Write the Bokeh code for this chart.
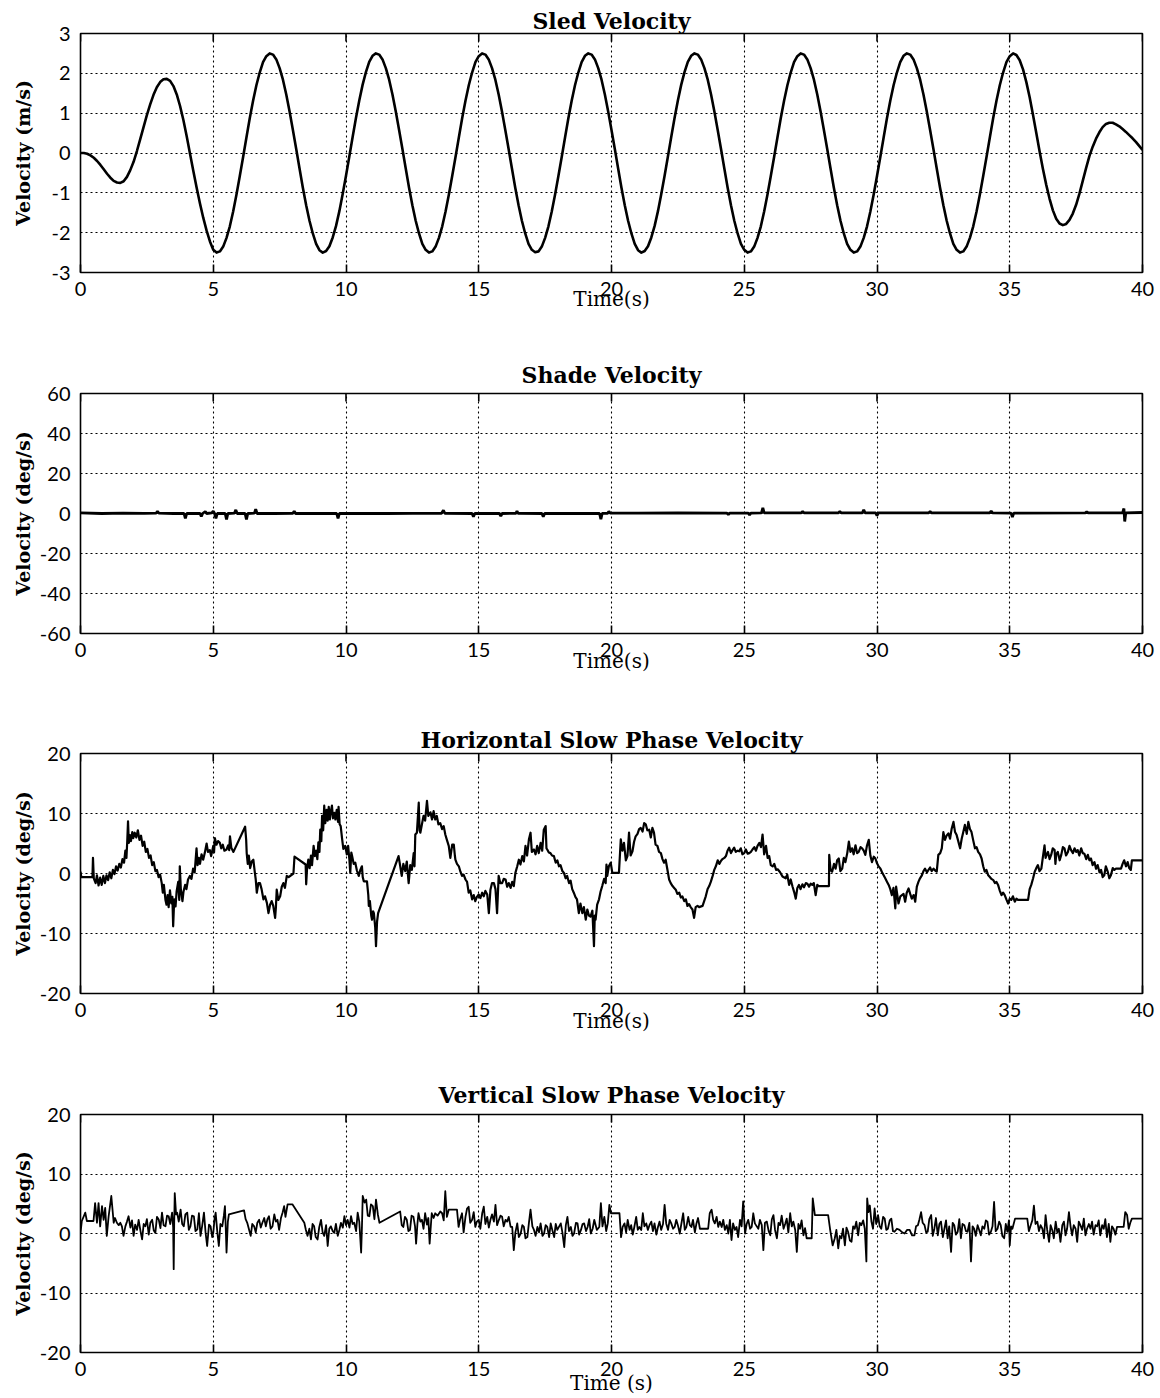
from bokeh.plotting import figure
from bokeh.layouts import column
from bokeh.models import FixedTicker, Range1d
from bokeh.embed import file_html
from bokeh.resources import INLINE

# ---------------------------------------------------------------- data
# Sled velocity (m/s), sampled every 0.125 s from 0 to 40 s
sled_step = 0.125
sled_v = [
    # 0 - 4.875 s: start-up
    0.00, 0.00, -0.02, -0.06, -0.12, -0.20, -0.30, -0.41, -0.52, -0.62,
    -0.70, -0.74, -0.75, -0.71, -0.60, -0.43, -0.22, 0.05, 0.35, 0.65,
    0.95, 1.22, 1.46, 1.65, 1.78, 1.85, 1.86, 1.81, 1.68, 1.47,
    1.18, 0.83, 0.42, -0.02, -0.45, -0.87, -1.27, -1.63, -1.95, -2.22,
    # 5 - 33 s: steady cycles, one row per 2 s
    -2.43, -2.50, -2.47, -2.35, -2.13, -1.84, -1.47, -1.04, -0.58, -0.10, 0.39, 0.87, 1.31, 1.70, 2.02, 2.28,
    2.43, 2.50, 2.47, 2.35, 2.13, 1.84, 1.47, 1.04, 0.58, 0.10, -0.39, -0.87, -1.31, -1.70, -2.02, -2.28,
    -2.44, -2.50, -2.46, -2.34, -2.12, -1.83, -1.46, -1.03, -0.57, -0.09, 0.40, 0.88, 1.32, 1.71, 2.03, 2.29,
    2.44, 2.50, 2.47, 2.35, 2.13, 1.84, 1.47, 1.04, 0.58, 0.10, -0.39, -0.87, -1.31, -1.70, -2.02, -2.28,
    -2.43, -2.50, -2.47, -2.35, -2.13, -1.84, -1.47, -1.04, -0.58, -0.10, 0.39, 0.87, 1.31, 1.70, 2.02, 2.28,
    2.43, 2.50, 2.47, 2.35, 2.13, 1.84, 1.47, 1.04, 0.58, 0.10, -0.39, -0.87, -1.31, -1.70, -2.02, -2.28,
    -2.43, -2.49, -2.47, -2.35, -2.13, -1.84, -1.47, -1.04, -0.58, -0.10, 0.39, 0.87, 1.31, 1.70, 2.02, 2.28,
    2.44, 2.50, 2.47, 2.35, 2.13, 1.84, 1.47, 1.04, 0.58, 0.10, -0.39, -0.87, -1.31, -1.70, -2.02, -2.28,
    -2.44, -2.50, -2.46, -2.34, -2.12, -1.83, -1.46, -1.03, -0.57, -0.09, 0.40, 0.88, 1.32, 1.71, 2.03, 2.29,
    2.44, 2.50, 2.47, 2.35, 2.13, 1.84, 1.47, 1.04, 0.58, 0.10, -0.39, -0.87, -1.31, -1.70, -2.02, -2.28,
    -2.43, -2.50, -2.47, -2.35, -2.13, -1.84, -1.47, -1.04, -0.58, -0.10, 0.39, 0.87, 1.31, 1.70, 2.02, 2.28,
    2.43, 2.50, 2.47, 2.35, 2.13, 1.84, 1.47, 1.04, 0.58, 0.10, -0.39, -0.87, -1.31, -1.70, -2.02, -2.28,
    -2.43, -2.50, -2.47, -2.35, -2.13, -1.84, -1.47, -1.04, -0.58, -0.10, 0.39, 0.87, 1.31, 1.70, 2.02, 2.28,
    2.44, 2.50, 2.47, 2.35, 2.13, 1.84, 1.47, 1.04, 0.58, 0.10, -0.39, -0.87, -1.31, -1.70, -2.02, -2.28,
    # 33 - 34.875 s
    -2.43, -2.50, -2.47, -2.35, -2.13, -1.84, -1.47, -1.04, -0.58, -0.10, 0.39, 0.87, 1.31, 1.70, 2.02, 2.28,
    # 35 - 40 s: run-down
    2.43, 2.50, 2.46, 2.33, 2.10, 1.78, 1.40, 0.96, 0.50, 0.04,
    -0.40, -0.80, -1.15, -1.44, -1.65, -1.77, -1.81, -1.78, -1.68, -1.52,
    -1.30, -1.02, -0.70, -0.38, -0.08, 0.16, 0.36, 0.52, 0.65, 0.73,
    0.76, 0.76, 0.72, 0.67, 0.60, 0.53, 0.45, 0.37, 0.28, 0.18, 0.08,
]
sled_t = [i * sled_step for i in range(len(sled_v))]

# Shade velocity (deg/s): (time, value)
shade = [
    (0.0, 0.3), (0.8, 0.0), (1.6, 0.2), (2.4, 0.1), (2.85, 0.2), (2.9, 1.0), (2.95, 0.2),
    (3.5, 0.0), (3.9, 0.0), (3.95, -2.5), (4.0, 0.0), (4.5, 0.1), (4.55, -1.5), (4.6, 0.0),
    (4.7, 1.0), (4.75, 0.0), (4.95, 0.3), (5.0, 1.2), (5.05, 0.0), (5.1, -2.5), (5.15, 0.0),
    (5.45, 0.0), (5.5, -3.0), (5.55, 0.0), (5.8, 0.2), (5.85, 1.8), (5.9, 0.0), (6.2, 0.0),
    (6.25, -3.0), (6.3, 0.0), (6.55, 0.2), (6.6, 2.2), (6.65, 0.0), (7.3, 0.0), (8.0, 0.1),
    (8.05, 1.2), (8.1, 0.0), (9.0, 0.0), (9.65, 0.0), (9.7, -2.5), (9.75, 0.0), (10.5, 0.1),
    (11.5, 0.0), (12.5, 0.1), (13.6, 0.1), (13.67, 1.6), (13.72, 0.1), (14.75, 0.0),
    (14.8, -1.6), (14.85, 0.0), (15.78, 0.0), (15.83, -1.3), (15.88, 0.0), (16.4, 0.1),
    (16.44, 1.2), (16.48, 0.1), (17.38, 0.0), (17.43, -1.6), (17.48, 0.0), (19.55, 0.0),
    (19.6, -2.8), (19.65, 0.1), (19.85, 0.1), (19.9, 1.0), (19.95, 0.2), (21.0, 0.2),
    (22.5, 0.3), (24.35, 0.2), (24.4, -0.6), (24.45, 0.2), (25.15, 0.2), (25.2, -0.8),
    (25.25, 0.2), (25.65, 0.3), (25.7, 2.8), (25.75, 0.3), (27.15, 0.3), (27.2, 1.0),
    (27.25, 0.3), (28.55, 0.3), (28.6, 1.0), (28.65, 0.3), (29.45, 0.3), (29.5, 1.8),
    (29.55, 0.3), (29.95, 0.3), (30.0, -1.0), (30.05, 0.3), (31.95, 0.3), (32.0, 1.0),
    (32.05, 0.3), (34.25, 0.3), (34.3, 1.2), (34.35, 0.3), (35.05, 0.2), (35.1, -1.8),
    (35.15, 0.2), (37.85, 0.3), (37.9, 0.9), (37.95, 0.3), (39.25, 0.3), (39.3, 2.5),
    (39.33, -4.0), (39.37, 0.3), (40.0, 0.5),
]

# Horizontal slow phase velocity (deg/s): (time, value)
horiz = [
    (0.0, 0.3), (0.03, -0.6), (0.45, -0.6), (0.47, 2.6), (0.5, -0.8), (0.57, -1.6), (0.62, -0.3),
    (0.68, -2.0), (0.74, -0.7), (0.8, -1.9), (0.86, -0.4), (0.92, -1.6), (0.98, -0.3),
    (1.04, -1.1), (1.1, 0.2), (1.16, -0.8), (1.22, 0.6), (1.28, -0.1), (1.34, 1.2), (1.4, 0.5),
    (1.46, 1.6), (1.52, 1.0), (1.58, 2.4), (1.64, 1.8), (1.69, 3.8), (1.73, 2.6), (1.76, 5.3),
    (1.79, 8.7), (1.82, 5.1), (1.86, 6.4), (1.9, 5.4), (1.95, 6.9), (1.99, 5.9), (2.04, 6.8),
    (2.1, 6.0), (2.16, 7.2), (2.22, 5.6), (2.28, 6.3), (2.34, 4.6), (2.4, 5.3), (2.46, 3.6),
    (2.52, 4.1), (2.58, 2.6), (2.64, 3.0), (2.7, 1.4), (2.76, 1.9), (2.82, 0.4), (2.88, 0.6),
    (2.94, -0.6), (3.0, -0.2), (3.06, -1.6), (3.1, -3.2), (3.14, -1.9), (3.2, -4.4),
    (3.24, -5.2), (3.28, -3.6), (3.32, -5.6), (3.37, -2.8), (3.42, -5.0), (3.46, -3.9),
    (3.49, -8.8), (3.53, -4.3), (3.58, -5.5), (3.62, -3.0), (3.68, -1.4), (3.72, -4.4),
    (3.74, 1.2), (3.78, -2.7), (3.84, -4.6), (3.88, -3.0), (3.94, -1.9), (3.99, -2.6),
    (4.05, -1.0), (4.12, -0.4), (4.18, -0.9), (4.24, 0.8), (4.3, 0.2), (4.37, 4.2), (4.41, 1.4),
    (4.46, 2.6), (4.5, 1.6), (4.56, 3.2), (4.62, 2.3), (4.68, 3.4), (4.75, 5.0), (4.8, 3.6),
    (4.87, 3.9), (4.92, 2.9), (5.0, 4.6), (5.03, 3.5), (5.06, 5.9), (5.12, 4.8), (5.18, 5.4),
    (5.25, 5.1), (5.3, 4.2), (5.36, 4.8), (5.42, 3.8), (5.5, 4.0), (5.56, 4.7), (5.6, 3.9),
    (5.63, 6.2), (5.68, 4.3), (5.76, 3.6), (6.2, 7.8), (6.24, 5.6), (6.26, 3.4), (6.3, 1.6),
    (6.34, 3.0), (6.39, 0.9), (6.45, 2.0), (6.51, 2.3), (6.56, 0.4), (6.6, -1.0), (6.64, -3.2),
    (6.7, -1.6), (6.76, -1.6), (6.82, -2.6), (6.89, -4.3), (6.95, -3.8), (7.02, -4.9),
    (7.08, -6.6), (7.14, -5.2), (7.2, -4.6), (7.26, -5.4), (7.33, -7.4), (7.36, -5.6),
    (7.39, -2.7), (7.45, -4.4), (7.52, -3.8), (7.58, -2.2), (7.64, -1.6), (7.7, -2.4),
    (7.77, -0.4), (7.84, -0.6), (8.02, 0.0), (8.06, 2.8), (8.48, 1.5), (8.5, -1.8), (8.53, 0.6),
    (8.58, 2.3), (8.63, 0.9), (8.68, 3.0), (8.72, 1.4), (8.78, 4.6), (8.83, 2.9), (8.88, 3.8),
    (8.92, 2.4), (8.96, 5.2), (9.0, 3.6), (9.03, 7.3), (9.07, 5.4), (9.1, 9.6), (9.14, 7.2),
    (9.18, 11.3), (9.22, 8.4), (9.27, 10.6), (9.31, 8.8), (9.35, 11.1), (9.39, 9.0),
    (9.43, 10.4), (9.47, 11.3), (9.51, 9.2), (9.56, 10.1), (9.6, 9.0), (9.65, 10.6), (9.7, 8.6),
    (9.72, 11.1), (9.76, 8.2), (9.8, 7.9), (9.85, 5.9), (9.9, 4.1), (9.97, 4.6), (10.03, 3.2),
    (10.08, 4.6), (10.13, 2.2), (10.16, 0.1), (10.2, 3.5), (10.23, 2.9), (10.29, 1.6),
    (10.35, 1.8), (10.41, 0.5), (10.48, -0.4), (10.54, 0.6), (10.6, 1.2), (10.63, -0.6),
    (10.67, -1.3), (10.79, -1.3), (10.84, -3.6), (10.86, -5.4), (10.9, -4.6), (10.95, -7.0),
    (10.98, -7.7), (11.02, -6.3), (11.05, -6.6), (11.1, -9.0), (11.13, -12.1), (11.17, -8.0),
    (11.21, -6.6), (11.98, 2.9), (12.04, 1.3), (12.1, -0.4), (12.16, 1.6), (12.23, 0.4),
    (12.29, 2.0), (12.36, -1.6), (12.42, 1.4), (12.48, 0.6), (12.55, 3.4), (12.58, 1.2),
    (12.61, 6.5), (12.67, 6.8), (12.74, 11.8), (12.77, 7.2), (12.8, 6.8), (12.86, 8.2),
    (12.92, 9.6), (12.98, 8.8), (13.05, 12.1), (13.1, 9.6), (13.18, 10.2), (13.24, 9.0),
    (13.3, 10.4), (13.36, 9.0), (13.42, 9.6), (13.48, 8.2), (13.55, 8.4), (13.62, 7.4),
    (13.68, 7.9), (13.74, 6.5), (13.8, 5.6), (13.87, 4.6), (13.93, 2.6), (14.0, 4.8),
    (14.06, 4.8), (14.1, 3.0), (14.12, 2.3), (14.18, 1.6), (14.25, 1.2), (14.31, 0.3),
    (14.37, -0.4), (14.43, -0.2), (14.5, -1.0), (14.56, -1.4), (14.62, -3.2), (14.68, -2.8),
    (14.75, -4.3), (14.81, -3.6), (14.87, -4.6), (14.93, -3.9), (15.0, -3.5), (15.06, -4.1),
    (15.13, -3.2), (15.19, -3.8), (15.25, -2.9), (15.32, -3.5), (15.38, -6.6), (15.44, -2.7),
    (15.5, -1.6), (15.57, -1.6), (15.63, -2.6), (15.69, -6.6), (15.75, -0.4), (15.81, -1.6),
    (15.88, -1.6), (15.94, -0.9), (16.01, -1.0), (16.07, -2.2), (16.13, -1.6), (16.2, -2.4),
    (16.26, -1.4), (16.32, -2.1), (16.38, 0.1), (16.45, 1.2), (16.51, 2.3), (16.57, 1.5),
    (16.64, 2.9), (16.7, 2.0), (16.76, 4.6), (16.82, 3.0), (16.89, 5.7), (16.95, 6.8),
    (17.0, 3.6), (17.08, 4.0), (17.14, 3.2), (17.2, 4.6), (17.26, 3.4), (17.33, 5.1),
    (17.39, 3.8), (17.45, 7.3), (17.52, 7.9), (17.55, 4.2), (17.58, 4.0), (17.64, 3.5),
    (17.7, 3.4), (17.76, 3.0), (17.83, 2.9), (17.9, 1.8), (17.96, 2.2), (18.02, 1.2),
    (18.08, 1.4), (18.15, 0.4), (18.21, 0.1), (18.27, -0.8), (18.33, -0.4), (18.4, -1.6),
    (18.46, -1.2), (18.52, -2.6), (18.58, -3.2), (18.64, -3.9), (18.7, -4.3), (18.77, -6.6),
    (18.83, -5.0), (18.9, -6.6), (18.96, -5.6), (19.03, -7.7), (19.09, -6.0), (19.15, -7.0),
    (19.21, -7.2), (19.28, -6.2), (19.34, -12.1), (19.37, -7.0), (19.4, -7.7), (19.46, -5.2),
    (19.53, -4.3), (19.59, -3.0), (19.65, -2.1), (19.72, -0.9), (19.78, -1.6), (19.81, 1.5),
    (19.84, -0.4), (19.9, 1.2), (19.97, 1.8), (20.03, 0.1), (20.28, 0.1), (20.35, 5.7),
    (20.41, 3.8), (20.47, 5.1), (20.54, 2.2), (20.6, 2.9), (20.66, 6.8), (20.72, 3.0),
    (20.79, 3.7), (20.85, 5.3), (20.91, 6.2), (20.98, 6.6), (21.04, 7.4), (21.1, 7.6),
    (21.17, 7.0), (21.23, 8.4), (21.29, 8.2), (21.35, 7.2), (21.42, 7.3), (21.48, 6.0),
    (21.54, 7.6), (21.6, 6.8), (21.66, 4.8), (21.73, 4.6), (21.79, 3.6), (21.86, 3.4),
    (21.92, 2.4), (21.98, 1.8), (22.04, 2.3), (22.1, 0.8), (22.17, -1.0), (22.23, -1.6),
    (22.3, -2.1), (22.36, -2.4), (22.42, -2.7), (22.48, -3.4), (22.55, -3.2), (22.61, -4.0),
    (22.67, -3.8), (22.74, -4.6), (22.8, -4.3), (22.86, -5.4), (22.92, -5.1), (22.98, -5.6),
    (23.05, -6.0), (23.11, -7.4), (23.17, -5.6), (23.24, -5.4), (23.3, -5.6), (23.43, -5.4),
    (23.49, -4.6), (23.55, -3.8), (23.62, -2.6), (23.68, -2.1), (23.74, -1.4), (23.81, -0.4),
    (23.87, 0.6), (23.93, 1.2), (24.0, 2.2), (24.06, 1.6), (24.12, 2.1), (24.18, 2.4),
    (24.25, 2.6), (24.31, 2.9), (24.37, 3.8), (24.43, 4.3), (24.5, 3.4), (24.56, 3.9),
    (24.62, 4.3), (24.68, 3.6), (24.75, 3.8), (24.81, 3.7), (24.87, 4.2), (24.93, 3.2),
    (25.0, 3.4), (25.06, 4.0), (25.13, 3.3), (25.19, 3.4), (25.25, 3.6), (25.31, 4.0),
    (25.38, 4.4), (25.44, 3.8), (25.5, 4.6), (25.57, 5.1), (25.63, 4.4), (25.69, 6.5),
    (25.75, 3.2), (25.82, 4.6), (25.88, 2.6), (25.94, 2.9), (26.0, 1.4), (26.07, 1.2),
    (26.13, 1.6), (26.2, 0.6), (26.26, 0.7), (26.35, 0.2), (26.44, -0.5), (26.56, -0.8),
    (26.62, -0.2), (26.69, -1.9), (26.75, -1.0), (26.82, -2.2), (26.88, -3.1), (26.94, -4.2),
    (27.0, -2.4), (27.06, -1.9), (27.12, -2.6), (27.19, -1.8), (27.25, -2.3), (27.32, -1.6),
    (27.38, -1.7), (27.44, -2.2), (27.5, -1.7), (27.56, -1.9), (27.62, -1.6), (27.69, -3.6),
    (27.75, -1.9), (27.8, -2.1), (28.19, -2.1), (28.2, 3.1), (28.25, 0.6), (28.31, 0.3),
    (28.38, 1.6), (28.44, 0.8), (28.5, 2.2), (28.56, 2.5), (28.62, 0.4), (28.69, 0.8),
    (28.75, 2.6), (28.81, 1.9), (28.88, 3.4), (28.94, 5.3), (29.0, 3.6), (29.06, 4.2),
    (29.12, 3.2), (29.19, 4.7), (29.25, 3.4), (29.31, 3.6), (29.38, 4.4), (29.44, 4.2),
    (29.5, 3.8), (29.56, 3.1), (29.62, 4.6), (29.69, 5.6), (29.75, 3.0), (29.81, 1.9),
    (29.88, 2.8), (29.94, 2.5), (30.0, 1.7), (30.06, 1.2), (30.13, 0.8), (30.19, 0.2),
    (30.25, -0.3), (30.31, -0.8), (30.38, -1.4), (30.44, -1.9), (30.5, -2.6), (30.56, -3.6),
    (30.62, -2.4), (30.69, -5.8), (30.72, -2.2), (30.81, -5.0), (30.88, -3.8), (30.94, -3.6),
    (31.0, -3.4), (31.06, -4.7), (31.12, -3.2), (31.19, -2.5), (31.25, -3.4), (31.31, -4.2),
    (31.38, -3.6), (31.44, -4.7), (31.5, -2.2), (31.56, -1.4), (31.62, -0.8), (31.69, -0.3),
    (31.75, 0.4), (31.81, 0.8), (31.88, 0.2), (31.94, 0.6), (32.0, 1.0), (32.06, 0.4),
    (32.13, 0.8), (32.19, 0.5), (32.25, 0.3), (32.31, 3.1), (32.38, 3.4), (32.44, 4.2),
    (32.5, 6.9), (32.56, 5.6), (32.62, 6.3), (32.69, 6.7), (32.75, 5.8), (32.81, 7.4),
    (32.88, 8.6), (32.94, 6.9), (33.0, 6.4), (33.06, 5.4), (33.13, 4.2), (33.19, 5.8),
    (33.25, 6.9), (33.31, 8.1), (33.38, 6.6), (33.44, 8.6), (33.5, 7.4), (33.56, 6.9),
    (33.62, 5.6), (33.69, 4.2), (33.75, 4.4), (33.81, 3.6), (33.88, 3.2), (33.94, 2.5),
    (34.0, 1.2), (34.06, 0.3), (34.12, 0.6), (34.19, -0.3), (34.25, -0.6), (34.31, -0.9),
    (34.38, -1.1), (34.44, -1.6), (34.5, -1.4), (34.56, -1.9), (34.62, -2.8), (34.69, -3.6),
    (34.75, -3.2), (34.81, -3.6), (34.88, -4.4), (34.94, -5.0), (35.0, -4.2), (35.06, -4.4),
    (35.12, -3.8), (35.19, -4.7), (35.25, -4.2), (35.31, -4.4), (35.69, -4.4), (35.75, -2.6),
    (35.81, -1.9), (35.88, -0.8), (35.94, 0.3), (36.0, 0.9), (36.06, 1.4), (36.12, 0.4),
    (36.19, 0.8), (36.25, 2.8), (36.31, 4.7), (36.35, 2.6), (36.38, 3.0), (36.44, 3.6),
    (36.5, 2.4), (36.56, 3.1), (36.62, 4.2), (36.69, 3.9), (36.72, 1.6), (36.75, 3.2),
    (36.81, 3.6), (36.88, 2.2), (36.94, 3.1), (37.0, 4.4), (37.06, 4.2), (37.12, 3.0),
    (37.19, 3.6), (37.25, 4.6), (37.31, 3.9), (37.38, 3.4), (37.44, 4.2), (37.5, 3.6),
    (37.56, 3.9), (37.62, 3.0), (37.69, 4.2), (37.75, 3.4), (37.81, 3.3), (37.88, 2.4),
    (37.94, 3.1), (38.0, 2.2), (38.06, 2.5), (38.12, 1.4), (38.19, 1.9), (38.25, 0.8),
    (38.31, 1.4), (38.38, 0.2), (38.44, 0.6), (38.5, -0.6), (38.56, -0.3), (38.62, 1.2),
    (38.69, 0.3), (38.75, -0.8), (38.81, -0.3), (38.88, 0.9), (38.94, 0.6), (39.0, 0.8),
    (39.06, 0.8), (39.19, 0.8), (39.25, 1.6), (39.31, 2.2), (39.38, 1.2), (39.44, 1.9),
    (39.5, 0.9), (39.56, 0.6), (39.6, 2.2), (40.0, 2.2),
]

# Vertical slow phase velocity (deg/s): (time, value)
vert = [
    (0.0, 0.1), (0.05, 2.1), (0.18, 3.5), (0.24, 2.1), (0.49, 2.1), (0.55, 5.1), (0.62, 1.8),
    (0.68, 5.1), (0.74, 1.2), (0.81, 4.6), (0.87, 2.3), (0.93, 4.3), (0.99, -0.4), (1.06, 2.9),
    (1.16, 6.3), (1.25, 1.8), (1.3, 2.6), (1.37, 1.8), (1.44, 1.4), (1.5, 1.8), (1.56, 1.2),
    (1.62, -0.4), (1.69, 1.2), (1.75, 2.0), (1.81, 2.9), (1.88, 1.0), (1.94, 2.2), (2.0, -0.4),
    (2.06, 1.5), (2.13, 0.6), (2.19, 2.3), (2.26, 0.4), (2.32, -1.0), (2.38, 1.6), (2.44, 1.2),
    (2.5, 2.4), (2.57, -0.2), (2.63, 1.8), (2.7, 2.3), (2.76, 0.5), (2.82, 0.1), (2.88, 2.8),
    (2.95, 2.3), (3.01, 0.9), (3.07, 3.5), (3.13, 1.4), (3.2, 1.2), (3.26, 3.0), (3.32, 2.9),
    (3.38, 1.6), (3.45, 3.5), (3.49, 1.0), (3.51, -6.0), (3.53, 2.0), (3.55, 6.8), (3.6, 3.2),
    (3.64, 3.5), (3.7, 2.0), (3.77, 4.0), (3.83, 1.6), (3.89, 1.2), (3.95, 3.2), (4.02, 3.5),
    (4.08, 0.6), (4.14, 1.2), (4.2, 3.0), (4.27, 2.9), (4.33, 0.4), (4.4, 0.7), (4.46, 3.4),
    (4.52, -0.4), (4.58, 1.2), (4.65, 3.5), (4.71, 0.2), (4.77, -2.1), (4.84, 1.5), (4.9, 1.2),
    (4.96, -0.6), (5.0, 0.1), (5.05, 2.5), (5.09, 3.5), (5.15, 0.4), (5.21, -2.1), (5.27, 1.6),
    (5.34, 1.2), (5.4, 3.0), (5.44, 4.6), (5.47, 1.0), (5.5, -3.2), (5.55, 2.0), (5.59, 3.2),
    (6.16, 3.9), (6.22, 2.4), (6.28, 1.8), (6.34, 0.8), (6.41, -0.4), (6.47, 1.6), (6.54, 1.2),
    (6.6, 0.2), (6.66, 1.8), (6.73, 2.3), (6.79, 1.0), (6.85, 1.8), (6.92, 2.6), (6.98, 1.2),
    (7.04, 2.4), (7.1, 2.9), (7.16, 0.8), (7.23, 1.2), (7.3, 3.2), (7.36, 2.0), (7.42, 2.3),
    (7.48, 0.6), (7.55, 2.6), (7.61, 3.5), (7.67, 4.6), (7.72, 2.8), (7.8, 4.9), (7.98, 4.9),
    (8.43, 1.8), (8.49, 0.6), (8.55, -0.4), (8.62, 0.8), (8.68, -1.0), (8.74, 1.6), (8.8, 1.2),
    (8.86, -0.6), (8.93, -1.0), (8.99, 1.0), (9.06, 2.3), (9.12, 0.2), (9.18, -0.4),
    (9.25, 1.4), (9.31, -2.1), (9.37, 0.8), (9.43, 1.2), (9.5, 0.4), (9.56, 0.1), (9.62, 1.6),
    (9.69, -0.4), (9.75, 0.6), (9.81, 1.8), (9.88, 1.0), (9.94, 2.9), (10.0, 1.4), (10.06, 2.3),
    (10.13, 1.0), (10.19, 2.9), (10.25, 1.6), (10.31, 1.8), (10.38, 0.4), (10.44, 3.5),
    (10.5, 2.0), (10.57, -3.2), (10.6, 1.0), (10.63, 6.3), (10.7, 5.2), (10.76, 5.7),
    (10.82, 3.0), (10.88, 2.9), (10.94, 4.9), (11.01, 4.6), (11.07, 2.4), (11.13, 5.7),
    (11.2, 3.2), (11.26, 1.8), (12.04, 3.7), (12.1, 1.4), (12.16, 1.1), (12.22, 2.8),
    (12.29, 2.3), (12.35, 0.4), (12.41, 0.6), (12.47, 3.0), (12.54, 2.8), (12.6, 1.2),
    (12.64, -1.7), (12.69, 1.6), (12.73, 3.4), (12.8, 2.0), (12.86, 2.3), (12.92, 0.8),
    (12.98, 3.4), (13.05, 1.5), (13.1, 2.6), (13.15, -1.7), (13.2, 1.6), (13.23, 3.4),
    (13.3, 2.6), (13.36, 3.4), (13.45, 3.0), (13.55, 3.7), (13.62, 3.4), (13.68, 2.2),
    (13.74, 7.1), (13.8, 2.8), (13.87, 4.0), (14.18, 4.0), (14.24, 1.1), (14.3, 2.4),
    (14.37, 3.4), (14.43, 0.2), (14.5, 2.8), (14.56, 4.2), (14.62, 4.5), (14.68, 1.8),
    (14.75, 2.3), (14.81, 3.6), (14.87, 1.1), (14.93, 2.0), (15.0, 2.3), (15.06, 0.8),
    (15.13, 3.4), (15.19, 4.5), (15.25, 1.6), (15.32, 2.8), (15.38, 1.0), (15.44, 2.3),
    (15.5, 3.2), (15.57, 2.0), (15.63, 4.8), (15.69, 1.4), (15.76, 2.3), (15.82, 3.0),
    (15.88, 2.8), (15.94, 1.2), (16.01, 2.3), (16.07, 2.0), (16.13, 2.8), (16.2, 1.1),
    (16.26, 1.1), (16.32, -2.8), (16.38, 0.2), (16.45, 1.7), (16.51, -0.6), (16.58, 0.0),
    (16.64, 1.4), (16.7, 1.1), (16.76, -0.8), (16.83, -0.6), (16.89, 1.8), (16.95, 4.0),
    (17.02, 1.2), (17.08, 0.6), (17.14, -0.4), (17.21, 1.1), (17.27, 0.2), (17.33, 1.7),
    (17.4, -0.4), (17.46, 0.0), (17.52, 1.4), (17.58, 1.1), (17.65, -0.6), (17.71, 1.7),
    (17.77, 0.6), (17.84, -0.6), (17.9, 1.6), (17.96, 0.6), (18.03, 1.2), (18.09, 1.7),
    (18.15, 0.2), (18.22, -2.3), (18.28, 1.4), (18.34, 2.8), (18.4, 0.4), (18.47, 1.1),
    (18.53, -0.4), (18.59, 0.0), (18.66, 1.8), (18.72, 1.7), (18.78, -0.2), (18.85, 0.6),
    (18.91, 1.6), (18.97, 1.7), (19.04, 0.4), (19.1, 1.1), (19.16, 2.4), (19.22, 0.0),
    (19.29, 0.8), (19.35, 2.3), (19.45, 0.6), (19.54, 1.1), (19.6, 5.1), (19.66, 1.2),
    (19.73, 2.8), (19.8, 0.4), (19.86, 1.7), (19.92, 4.8), (19.98, 3.4), (20.3, 3.4),
    (20.36, -0.6), (20.42, 1.1), (20.49, 1.7), (20.55, 0.2), (20.61, 2.3), (20.68, 0.6),
    (20.74, 1.4), (20.8, -0.2), (20.86, 1.1), (20.93, 2.8), (20.99, 0.6), (21.05, 1.1),
    (21.12, 0.6), (21.18, 3.4), (21.24, 1.2), (21.31, 1.7), (21.37, 0.6), (21.43, 1.4),
    (21.5, 2.0), (21.56, 0.4), (21.62, 1.7), (21.69, -0.2), (21.75, 1.1), (21.81, 2.0),
    (21.87, 0.6), (21.94, 1.6), (22.0, 4.8), (22.06, 1.7), (22.13, 0.6), (22.19, 2.3),
    (22.25, 1.7), (22.32, 0.8), (22.38, 1.1), (22.44, 2.3), (22.5, 1.4), (22.57, 0.0),
    (22.63, 1.6), (22.7, 3.4), (22.76, 0.6), (22.82, 1.1), (22.89, 2.8), (22.95, 1.4),
    (23.01, 1.1), (23.07, 2.3), (23.14, 0.2), (23.2, 1.7), (23.26, 2.6), (23.33, 0.8),
    (23.39, 0.8), (23.64, 0.8), (23.7, 3.4), (23.77, 4.0), (23.83, 2.3), (23.89, 1.7),
    (23.96, 2.8), (24.02, 1.1), (24.08, 2.0), (24.15, 1.1), (24.21, 2.3), (24.27, 0.6),
    (24.34, 1.4), (24.4, 0.0), (24.46, 2.3), (24.52, -1.1), (24.58, 1.7), (24.65, 0.6),
    (24.71, 1.1), (24.77, -0.6), (24.84, 2.3), (24.9, 1.2), (24.96, 5.4), (25.03, 0.0),
    (25.09, 1.6), (25.15, 2.3), (25.22, 0.8), (25.28, 1.1), (25.34, 3.4), (25.4, 1.7),
    (25.47, 1.2), (25.53, 0.8), (25.59, 2.3), (25.66, 1.4), (25.72, -2.8), (25.78, 1.8),
    (25.85, 2.0), (25.92, 0.4), (25.98, -0.3), (26.04, 2.4), (26.1, 3.1), (26.16, 0.6),
    (26.23, -0.8), (26.29, 1.8), (26.35, 1.4), (26.41, 3.0), (26.48, 0.8), (26.54, 1.6),
    (26.6, 2.5), (26.66, 0.2), (26.73, 3.4), (26.79, 1.2), (26.85, 2.0), (26.92, 0.6),
    (26.98, -3.1), (27.04, 1.6), (27.1, 0.8), (27.16, 2.2), (27.23, -0.3), (27.29, 0.9),
    (27.35, -0.8), (27.54, -0.8), (27.58, 5.9), (27.66, 3.1), (28.16, 3.1), (28.23, 0.8),
    (28.33, -2.0), (28.41, -0.8), (28.47, 0.6), (28.54, -2.5), (28.6, -0.4), (28.66, -0.8),
    (28.72, 0.8), (28.79, -2.0), (28.85, 1.0), (28.91, 0.3), (28.98, -1.2), (29.04, -1.4),
    (29.1, 1.2), (29.16, 0.8), (29.22, 2.0), (29.29, -0.3), (29.35, 1.8), (29.41, 1.4),
    (29.48, 2.2), (29.54, 0.8), (29.6, -4.7), (29.63, 5.9), (29.68, 3.6), (29.73, 4.7),
    (29.79, 2.0), (29.85, 0.8), (29.91, 4.2), (29.97, 1.6), (30.04, 3.1), (30.1, 1.2),
    (30.16, 0.8), (30.23, 2.8), (30.29, 2.5), (30.35, 0.6), (30.41, 0.8), (30.48, 2.2),
    (30.54, 2.5), (30.6, 0.4), (30.66, 0.3), (30.75, 0.8), (30.85, 0.6), (30.95, 0.2),
    (31.04, 0.0), (31.13, 0.6), (31.23, 0.6), (31.32, -0.3), (31.41, -0.3), (31.47, 1.2),
    (31.54, 1.4), (31.6, 2.4), (31.66, 3.6), (31.72, 1.8), (31.79, 1.4), (31.85, 0.2),
    (31.91, 0.3), (31.97, 2.4), (32.04, 3.1), (32.1, -0.4), (32.16, 0.8), (32.22, 2.6),
    (32.29, -0.3), (32.35, 1.6), (32.41, 2.0), (32.48, -0.6), (32.54, 0.8), (32.6, 2.2),
    (32.66, -0.8), (32.72, 1.2), (32.79, -3.1), (32.85, 1.8), (32.91, 1.4), (32.97, -0.2),
    (33.04, 0.3), (33.1, 2.4), (33.16, -0.8), (33.22, 1.6), (33.29, 1.4), (33.35, 0.4),
    (33.41, 0.3), (33.48, 1.8), (33.54, -4.7), (33.6, 1.2), (33.66, 0.8), (33.72, -0.4),
    (33.79, 1.4), (33.85, 0.6), (33.91, -0.3), (33.97, 1.2), (34.04, 0.8), (34.1, 2.2),
    (34.16, 2.0), (34.22, -0.2), (34.29, 0.3), (34.35, 1.2), (34.41, 5.3), (34.47, 0.4),
    (34.54, 0.8), (34.6, 2.0), (34.66, 1.4), (34.72, -0.4), (34.79, -0.8), (34.85, 1.6),
    (34.91, 0.3), (34.97, 2.2), (35.0, -2.0), (35.05, 1.2), (35.1, 0.8), (35.2, 2.5),
    (35.29, 2.5), (35.66, 2.5), (35.72, 0.4), (35.79, 1.4), (35.85, 2.2), (35.91, 4.7),
    (35.97, 1.6), (36.04, 2.0), (36.1, 0.4), (36.16, 1.4), (36.23, 0.8), (36.29, -0.8),
    (36.35, 3.1), (36.41, 0.6), (36.48, -1.4), (36.54, 1.4), (36.6, 0.6), (36.66, -0.8),
    (36.73, 2.0), (36.79, 0.2), (36.85, 0.8), (36.91, -1.4), (36.98, 1.4), (37.04, 2.0),
    (37.1, -0.3), (37.16, 0.8), (37.23, 3.6), (37.29, 1.2), (37.35, -0.3), (37.41, 1.4),
    (37.48, 0.8), (37.54, -1.4), (37.6, 2.0), (37.66, 1.4), (37.73, 0.6), (37.79, 2.5),
    (37.85, -0.3), (37.91, 0.8), (37.98, 1.6), (38.04, 0.8), (38.1, 2.0), (38.16, -0.2),
    (38.23, 1.4), (38.29, 1.2), (38.35, 2.2), (38.41, -0.3), (38.48, 1.4), (38.54, 0.8),
    (38.6, 2.4), (38.66, -0.6), (38.73, 1.6), (38.79, -1.4), (38.85, 1.2), (38.91, 0.8),
    (38.98, -0.2), (39.04, 1.1), (39.29, 1.1), (39.35, 3.6), (39.42, 3.1), (39.48, 0.8),
    (39.54, 1.8), (39.6, 2.5), (40.0, 2.5),
]

time_ticks = [0, 5, 10, 15, 20, 25, 30, 35, 40]

TITLE_FONT = "DejaVu Serif"
LABEL_FONT = "DejaVu Serif"
TICK_FONT = "Lato"
FRAME_LEFT = 80
FRAME_RIGHT = 1142
TICK_LEN_PX = 8


def panel(title, ylabel, xlabel, yticks, height, top, bottom,
          title_standoff, ylabel_standoff, xlabel_standoff):
    p = figure(width=1160, height=height,
               x_range=Range1d(0, 40), y_range=Range1d(yticks[0], yticks[-1]),
               output_backend="svg", toolbar_location=None,
               min_border_top=top, min_border_bottom=bottom,
               min_border_left=FRAME_LEFT, min_border_right=1160 - FRAME_RIGHT,
               background_fill_color="white", border_fill_color="white")
    p.outline_line_color = "black"
    p.outline_line_width = 1.6

    p.title.text = title
    p.title.align = "center"
    p.title.text_font = TITLE_FONT
    p.title.text_font_size = "22px"
    p.title.text_font_style = "bold"
    p.title.text_color = "black"
    p.title.standoff = title_standoff

    xt = FixedTicker(ticks=time_ticks)
    yt = FixedTicker(ticks=yticks)

    xa = p.xaxis[0]
    xa.ticker = xt
    xa.axis_line_color = None
    xa.major_tick_in = TICK_LEN_PX
    xa.major_tick_out = 0
    xa.major_tick_line_width = 1.6
    xa.major_tick_line_color = "black"
    xa.minor_tick_line_color = None
    xa.major_label_standoff = 9
    xa.major_label_text_font = TICK_FONT
    xa.major_label_text_font_size = "20px"
    xa.major_label_text_color = "black"
    xa.axis_label = xlabel
    xa.axis_label_text_font = LABEL_FONT
    xa.axis_label_text_font_style = "normal"
    xa.axis_label_text_font_size = "20px"
    xa.axis_label_text_color = "black"
    xa.axis_label_standoff = xlabel_standoff

    ya = p.yaxis[0]
    ya.ticker = yt
    ya.axis_line_color = None
    ya.major_tick_in = 0
    ya.major_tick_out = 0
    ya.minor_tick_line_color = None
    ya.major_label_standoff = 10
    ya.major_label_overrides = {t: str(t) for t in yticks}
    ya.major_label_text_font = TICK_FONT
    ya.major_label_text_font_size = "20px"
    ya.major_label_text_color = "black"
    ya.axis_label = ylabel
    ya.axis_label_text_font = LABEL_FONT
    ya.axis_label_text_font_style = "bold"
    ya.axis_label_text_font_size = "19px"
    ya.axis_label_text_color = "black"
    ya.axis_label_standoff = ylabel_standoff

    for g, t in ((p.xgrid, xt), (p.ygrid, yt)):
        g.ticker = t
        g.grid_line_color = "black"
        g.grid_line_dash = "2 3"
        g.grid_line_width = 1.1
        g.grid_line_alpha = 1.0

    # inward tick marks hanging from the top edge at each time tick
    frame_h = height - top - bottom
    tick_len = TICK_LEN_PX * (yticks[-1] - yticks[0]) / frame_h
    p.segment(x0=time_ticks, x1=time_ticks,
              y0=[yticks[-1]] * len(time_ticks),
              y1=[yticks[-1] - tick_len] * len(time_ticks),
              line_color="black", line_width=1.6)
    return p


p1 = panel("Sled Velocity", "Velocity (m/s)", "Time(s)", [-3, -2, -1, 0, 1, 2, 3],
           335, 33, 335 - 272, 0, 14, -12)
p1.line(sled_t, sled_v, line_color="black", line_width=2.6, line_join="round")

p2 = panel("Shade Velocity", "Velocity (deg/s)", "Time(s)", [-60, -40, -20, 0, 20, 40, 60],
           365, 393 - 335, 335 + 365 - 633, 12, 3, -11)
p2.line([s[0] for s in shade], [s[1] for s in shade], line_color="black", line_width=2.8)

p3 = panel("Horizontal Slow Phase Velocity", "Velocity (deg/s)", "Time(s)", [-20, -10, 0, 10, 20],
           360, 753 - 700, 1060 - 993, 2, 3, -11)
p3.line([h[0] for h in horiz], [h[1] for h in horiz], line_color="black", line_width=2.2,
        line_join="round")

p4 = panel("Vertical Slow Phase Velocity", "Velocity (deg/s)", "Time (s)", [-20, -10, 0, 10, 20],
           338, 1114 - 1060, 1398 - 1352, 13, 3, -8)
p4.line([v[0] for v in vert], [v[1] for v in vert], line_color="black", line_width=1.8,
        line_join="round")

layout = column(p1, p2, p3, p4, spacing=0)

with open("out.html", "w") as f:
    f.write(file_html(layout, INLINE))
